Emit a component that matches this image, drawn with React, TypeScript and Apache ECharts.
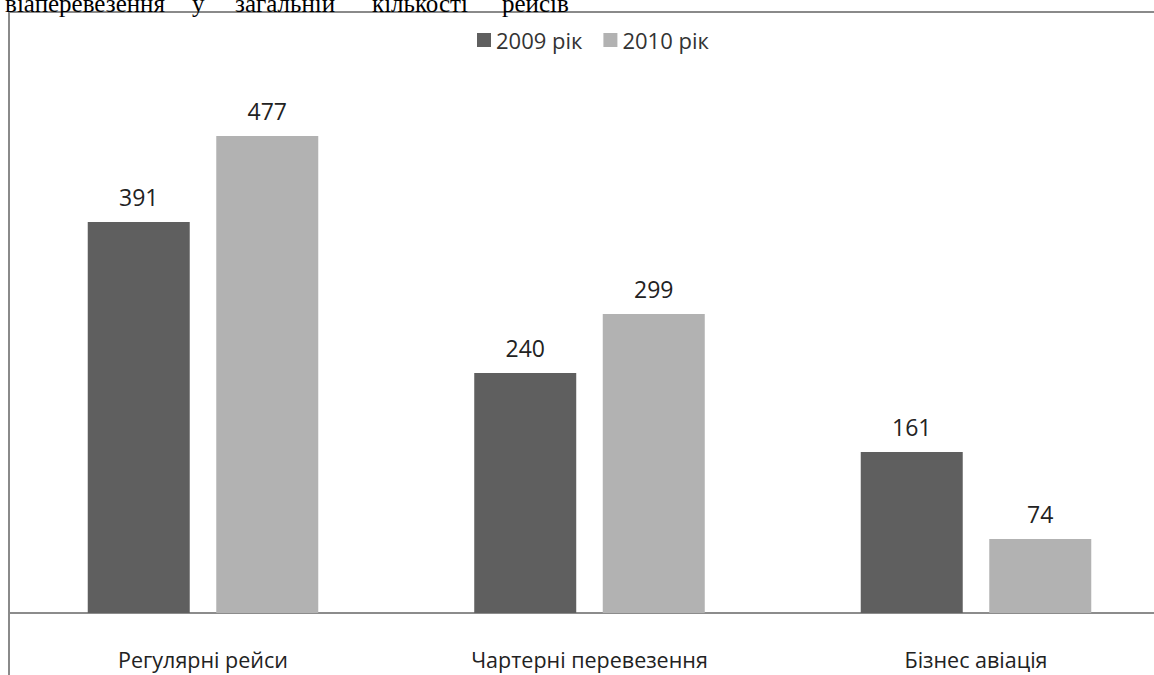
import React, { useEffect, useRef } from "react";
import * as echarts from "echarts";

const categories = ["Регулярні рейси", "Чартерні перевезення", "Бізнес авіація"];
const series2009 = [391, 240, 161];
const series2010 = [477, 299, 74];
const seriesNames = ["2009 рік", "2010 рік"];
const headerWords = ["віаперевезення", "у", "загальній", "кількості", "рейсів"];

const FONT = "'Open Sans', 'Noto Sans', sans-serif";

export default function App() {
  const ref = useRef<HTMLDivElement>(null);
  useEffect(() => {
    if (!ref.current) return;
    const chart = echarts.init(ref.current, undefined, { renderer: "svg" });
    const headerX = [165, 192, 235, 372, 502];
    chart.setOption({
      animation: false,
      backgroundColor: "#ffffff",
      legend: {
        data: seriesNames,
        left: 472,
        top: 24,
        itemWidth: 14,
        itemHeight: 14,
        itemGap: 21,
        icon: "rect",
        textStyle: { fontFamily: FONT, fontSize: 22, color: "#333" },
      },
      grid: { left: 9.75, right: 0.75, top: 13, bottom: 62, containLabel: false },
      xAxis: {
        type: "category",
        data: categories,
        axisLine: { lineStyle: { color: "#8c8c8c", width: 2 } },
        axisTick: { show: false },
        axisLabel: { fontFamily: FONT, fontSize: 21.5, color: "#222", margin: 35 },
      },
      yAxis: {
        type: "value",
        min: 0,
        max: 600,
        show: false,
        splitLine: { show: false },
      },
      graphic: [
        {
          type: "rect",
          shape: { x: 9, y: 12, width: 1300, height: 800 },
          style: { fill: "none", stroke: "#8a8a8a", lineWidth: 2 },
          z: 10,
        },
        ...headerWords.map((w, i) => ({
          type: "text",
          x: headerX[i],
          y: 16,
          style: {
            text: w,
            fontFamily: "'Liberation Serif', 'Times New Roman', serif",
            fontSize: 25,
            fill: "#000",
            textAlign: i === 0 ? "right" : "left",
            textVerticalAlign: "bottom",
          },
          z: 20,
        })),
      ],
      series: [
        {
          name: seriesNames[0],
          type: "bar",
          data: series2009,
          barWidth: 102,
          barGap: "26%",
          itemStyle: { color: "#5f5f5f" },
          label: {
            show: true,
            position: "top",
            distance: 14,
            fontFamily: FONT,
            fontSize: 23,
            color: "#222",
          },
        },
        {
          name: seriesNames[1],
          type: "bar",
          data: series2010,
          barWidth: 102,
          barGap: "26%",
          itemStyle: { color: "#b2b2b2" },
          label: {
            show: true,
            position: "top",
            distance: 14,
            fontFamily: FONT,
            fontSize: 23,
            color: "#222",
          },
        },
      ],
    });
    return () => chart.dispose();
  }, []);
  return (
    <div style={{ position: "fixed", left: 0, top: 0, width: 1154, height: 675, overflow: "hidden", background: "#fff" }}>
      <div ref={ref} style={{ width: 1170, height: 675 }} />
    </div>
  );
}
